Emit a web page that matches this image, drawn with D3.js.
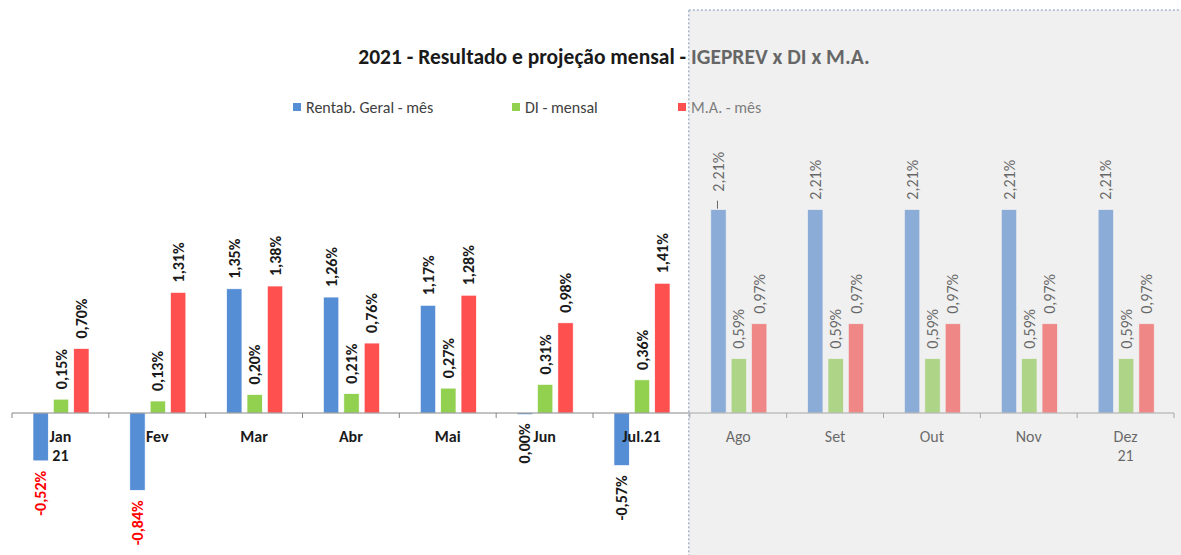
<!DOCTYPE html>
<html>
<head>
<meta charset="utf-8">
<script src="https://cdn.jsdelivr.net/npm/d3@7"></script>
<style>
  body { margin: 0; background: #fff; }
  svg { display: block; font-family: Carlito, Calibri, "Liberation Sans", Arial, sans-serif; }
</style>
</head>
<body>
<svg id="chart" width="1181" height="555"></svg>
<script>
// months (second line of label after "|")
var months = ["Jan|21", "Fev", "Mar", "Abr", "Mai", "Jun", "Jul.21", "Ago", "Set", "Out", "Nov", "Dez|21"];
var seriesNames = ["Rentab. Geral - mês", "DI - mensal", "M.A. - mês"];
var rentab = [-0.52, -0.84, 1.35, 1.26, 1.17, -0.004, -0.57, 2.21, 2.21, 2.21, 2.21, 2.21];
var diMensal = [0.15, 0.13, 0.20, 0.21, 0.27, 0.31, 0.36, 0.59, 0.59, 0.59, 0.59, 0.59];
var maMes = [0.70, 1.31, 1.38, 0.76, 1.28, 0.98, 1.41, 0.97, 0.97, 0.97, 0.97, 0.97];
var firstProjected = "Ago";
var redNegLabels = ["Jan|21", "Fev"];

var colors = ["#558ed5", "#92d050", "#ff5050"];

const svg = d3.select('#chart'),
    width = +svg.attr('width'),
    height = +svg.attr('height');

var projStart = months.indexOf(firstProjected);
var isProj = m => months.indexOf(m) >= projStart;

var rows = months.map((m, i) => ({
    month: m,
    values: [rentab[i], diMensal[i], maMes[i]]
}));

var x = d3.scaleBand().domain(months).range([12, 1174]);
var x1 = d3.scaleBand().domain(d3.range(3)).range([21, 77]).paddingInner(0.25);
var y = d3.scaleLinear().domain([-1, 2.4]).range([505, 192.2]);

var fmt = v => {
    var s = v.toFixed(2);
    if (s === "-0.00") s = "0.00";
    return s.replace(".", ",") + "%";
};

// title
svg.append("text")
    .attr("x", 614)
    .attr("y", 64)
    .attr("text-anchor", "middle")
    .style("font-size", "21.5px")
    .style("font-weight", "bold")
    .style("fill", "#1a1a1a")
    .text("2021 - Resultado e projeção mensal - IGEPREV x DI x M.A.");

// legend
var legendX = [293, 512, 678];
var legend = svg.append("g").selectAll("g")
    .data(seriesNames)
    .enter().append("g")
    .attr("transform", (d, i) => "translate(" + legendX[i] + ",107)");
legend.append("rect")
    .attr("x", 0).attr("y", -4)
    .attr("width", 8).attr("height", 8)
    .attr("fill", (d, i) => colors[i]);
legend.append("text")
    .attr("x", 13).attr("y", 0)
    .attr("dy", "0.35em")
    .style("font-size", "16px")
    .style("fill", "#404040")
    .text(d => d);

// bars
var groups = svg.append("g").selectAll("g")
    .data(rows)
    .enter().append("g")
    .attr("transform", d => "translate(" + x(d.month) + ",0)");

groups.selectAll("rect")
    .data(d => d.values.map((v, i) => ({v: v, i: i, month: d.month})))
    .enter().append("rect")
    .attr("x", d => x1(d.i))
    .attr("width", x1.bandwidth())
    .attr("y", d => y(Math.max(0, d.v)))
    .attr("height", d => Math.max(1.5, Math.abs(y(d.v) - y(0))))
    .attr("fill", d => colors[d.i])
    .attr("stroke", "#fff")
    .attr("stroke-width", 0.6);

// data labels, rotated
groups.selectAll("text.lbl")
    .data(d => d.values.map((v, i) => ({v: v, i: i, month: d.month})))
    .enter().append("text")
    .attr("class", "lbl")
    .attr("transform", d => {
        var cx = x1(d.i) + x1.bandwidth() / 2;
        var extra = (d.month === firstProjected && d.i === 0) ? 8 : 0;
        var yy = d.v < 0 ? y(d.v) + 10 : y(d.v) - 10 - extra;
        return "translate(" + cx + "," + yy + ") rotate(-90)";
    })
    .attr("dy", "0.35em")
    .attr("text-anchor", d => d.v < 0 ? "end" : "start")
    .style("font-size", "16px")
    .style("font-weight", d => isProj(d.month) ? "normal" : "bold")
    .style("fill", d => (d.v < 0 && redNegLabels.indexOf(d.month) >= 0) ? "#ff0000" : "#1a1a1a")
    .text(d => fmt(d.v));

// leader line on the first projected label
var leadX = x(firstProjected) + x1(0) + x1.bandwidth() / 2 - 1;
var leadY = y(rentab[projStart]);
svg.append("line")
    .attr("x1", leadX).attr("x2", leadX)
    .attr("y1", leadY - 1).attr("y2", leadY - 9)
    .attr("stroke", "#1a1a1a");

// category axis at zero
var axis = svg.append("g").attr("transform", "translate(0," + y(0) + ")");
axis.append("line")
    .attr("x1", 12).attr("x2", 1174)
    .attr("stroke", "#868686");
axis.selectAll("line.tick")
    .data(months.concat(["end"]))
    .enter().append("line")
    .attr("class", "tick")
    .attr("x1", (d, i) => i < months.length ? x(d) : 1174)
    .attr("x2", (d, i) => i < months.length ? x(d) : 1174)
    .attr("y1", 0).attr("y2", 5)
    .attr("stroke", "#868686");

var catText = axis.selectAll("text.cat")
    .data(months)
    .enter().append("text")
    .attr("class", "cat")
    .attr("x", d => x(d) + x.bandwidth() / 2)
    .attr("y", 29)
    .attr("text-anchor", "middle")
    .style("font-size", "16px")
    .style("font-weight", d => isProj(d) ? "normal" : "bold")
    .style("fill", "#1a1a1a");
catText.each(function(d) {
    var parts = d.split("|");
    var t = d3.select(this);
    parts.forEach((p, k) => {
        t.append("tspan")
            .attr("x", x(d) + x.bandwidth() / 2)
            .attr("dy", k === 0 ? 0 : 19)
            .text(p);
    });
});

// projection overlay
var ox = x(firstProjected) - 1;
svg.append("rect")
    .attr("x", ox)
    .attr("y", 10)
    .attr("width", width - ox + 5)
    .attr("height", height - 10 + 5)
    .attr("fill", "#d9d9d9")
    .attr("fill-opacity", 0.4)
    .attr("stroke", "#7f96b8")
    .attr("stroke-dasharray", "2,2");
</script>
</body>
</html>
